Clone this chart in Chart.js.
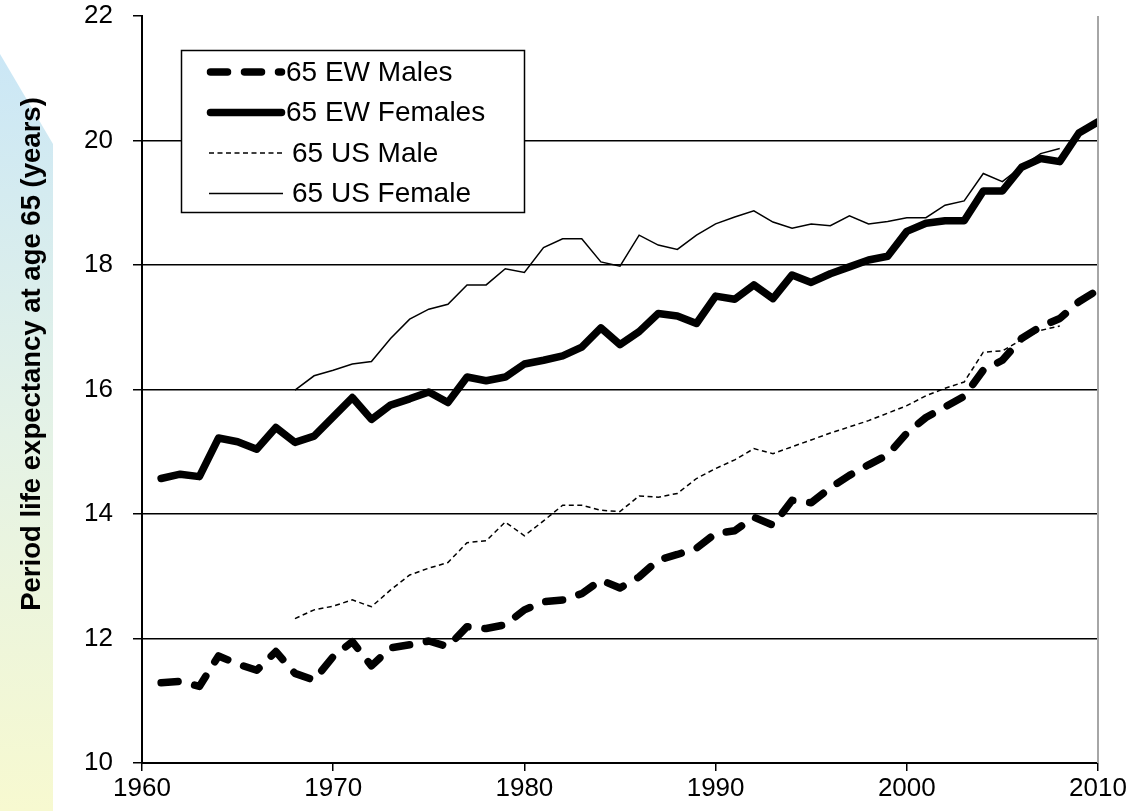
<!DOCTYPE html>
<html lang="en">
<head>
<meta charset="UTF-8">
<title>Period life expectancy at age 65</title>
<script src="https://cdn.jsdelivr.net/npm/chart.js"></script>
<style>
  body { margin: 0; background: #ffffff; }
  #wrap { width: 1130px; height: 811px; position: relative; }
</style>
</head>
<body>
<div id="wrap"><canvas id="lifeChart" width="1130" height="811"></canvas></div>
<script>
// years covered by each source
const ewYears = [];
for (let y = 1961; y <= 2010; y++) ewYears.push(y);
const usYears = [];
for (let y = 1968; y <= 2008; y++) usYears.push(y);

// values (years of life remaining at 65)
const ewMales = [11.29, 11.31, 11.23, 11.72, 11.59, 11.49, 11.79, 11.44, 11.33, 11.71,
                 11.95, 11.56, 11.85, 11.90, 11.96, 11.87, 12.19, 12.16, 12.22, 12.46,
                 12.59, 12.62, 12.72, 12.94, 12.81, 12.99, 13.26, 13.35, 13.45, 13.69,
                 13.73, 13.95, 13.82, 14.22, 14.18, 14.42, 14.62, 14.79, 14.95, 15.30,
                 15.55, 15.72, 15.89, 16.31, 16.47, 16.82, 17.01, 17.14, 17.41, 17.60];
const ewFemales = [14.57, 14.64, 14.60, 15.22, 15.16, 15.04, 15.39, 15.15, 15.25, 15.56,
                   15.87, 15.52, 15.75, 15.85, 15.96, 15.79, 16.20, 16.14, 16.20, 16.41,
                   16.47, 16.54, 16.68, 16.99, 16.72, 16.93, 17.22, 17.18, 17.06, 17.50,
                   17.45, 17.68, 17.46, 17.84, 17.72, 17.86, 17.97, 18.08, 18.14, 18.54,
                   18.67, 18.71, 18.71, 19.19, 19.19, 19.57, 19.71, 19.66, 20.12, 20.30];
const usMale = [12.32, 12.46, 12.52,
                12.62, 12.51, 12.78, 13.02, 13.13, 13.22, 13.54, 13.57, 13.87, 13.65,
                13.89, 14.14, 14.14, 14.06, 14.04, 14.29, 14.27, 14.33, 14.57, 14.73,
                14.87, 15.05, 14.97, 15.08, 15.19, 15.30, 15.40, 15.50, 15.62, 15.74,
                15.90, 16.02, 16.12, 16.60, 16.62, 16.80, 16.95, 17.02];
const usFemale = [15.99, 16.22, 16.31,
                  16.41, 16.45, 16.82, 17.13, 17.29, 17.37, 17.68, 17.68, 17.94, 17.88,
                  18.28, 18.42, 18.42, 18.05, 17.98, 18.48, 18.32, 18.25, 18.48, 18.66,
                  18.77, 18.87, 18.69, 18.59, 18.66, 18.63, 18.79, 18.66, 18.70, 18.76,
                  18.76, 18.96, 19.03, 19.47, 19.34, 19.58, 19.79, 19.87];

const seriesLabels = ['65 EW Males', '65 EW Females', '65 US Male', '65 US Female'];
const xTicks = [1960, 1970, 1980, 1990, 2000, 2010];
const yTicks = [10, 12, 14, 16, 18, 20, 22];
const yTitle = 'Period life expectancy at age 65 (years)';

function pts(xs, ys) {
    return xs.map((x, i) => ({ x: x, y: ys[i] }));
}

// slide decoration behind the axis title
const slideBack = {
    id: 'slideBack',
    beforeDraw(chart) {
        const c = chart.ctx;
        c.save();
        c.fillStyle = '#ffffff';
        c.fillRect(0, 0, chart.width, chart.height);
        const g = c.createLinearGradient(0, 55, 0, 811);
        g.addColorStop(0, '#cbe7f6');
        g.addColorStop(0.5, '#e4f2e6');
        g.addColorStop(1, '#f7f9d0');
        c.fillStyle = g;
        c.beginPath();
        c.moveTo(0, 54);
        c.lineTo(53, 144);
        c.lineTo(53, 811);
        c.lineTo(0, 811);
        c.closePath();
        c.fill();
        c.restore();
    }
};

// axis title, right border and the boxed legend
const decor = {
    id: 'decor',
    afterDraw(chart) {
        const c = chart.ctx;
        const a = chart.chartArea;
        c.save();

        c.strokeStyle = '#a6a6a6';
        c.lineWidth = 2;
        c.beginPath();
        c.moveTo(a.right, a.top);
        c.lineTo(a.right, a.bottom);
        c.stroke();

        c.translate(32, 354);
        c.rotate(-Math.PI / 2);
        c.fillStyle = '#000';
        c.font = 'bold 27.5px "Liberation Sans", Arial, sans-serif';
        c.textAlign = 'center';
        c.textBaseline = 'middle';
        c.fillText(yTitle, 0, 0);
        c.setTransform(1, 0, 0, 1, 0, 0);

        // legend box
        c.fillStyle = '#fff';
        c.fillRect(181, 50, 344, 163);
        c.strokeStyle = '#000';
        c.lineWidth = 1.5;
        c.strokeRect(181.5, 50.5, 343, 162);

        chart.data.datasets.forEach((ds, i) => {
            const y = 72 + i * 40.5;
            const thick = ds.borderWidth > 3;
            c.beginPath();
            c.lineWidth = ds.borderWidth;
            c.lineCap = ds.borderCapStyle || 'butt';
            c.setLineDash(ds.borderDash || []);
            c.strokeStyle = ds.borderColor;
            c.moveTo(thick ? 210.5 : 209, y);
            c.lineTo(thick ? 281.5 : 283, y);
            c.stroke();
            c.setLineDash([]);
            c.fillStyle = '#000';
            c.font = '28px "Liberation Sans", Arial, sans-serif';
            c.textAlign = 'left';
            c.textBaseline = 'middle';
            c.fillText(ds.label, thick ? 286 : 292, y + 1);
        });
        c.restore();
    }
};

new Chart(document.getElementById('lifeChart'), {
    type: 'line',
    data: {
        datasets: [
            {
                label: seriesLabels[0],
                data: pts(ewYears, ewMales),
                borderColor: '#000',
                borderWidth: 7.5,
                borderDash: [17, 17],
                borderCapStyle: 'round',
                borderJoinStyle: 'round'
            },
            {
                label: seriesLabels[1],
                data: pts(ewYears, ewFemales),
                borderColor: '#000',
                borderWidth: 7.5,
                borderCapStyle: 'round',
                borderJoinStyle: 'round'
            },
            {
                label: seriesLabels[2],
                data: pts(usYears, usMale),
                borderColor: '#000',
                borderWidth: 1.5,
                borderDash: [5, 3.5]
            },
            {
                label: seriesLabels[3],
                data: pts(usYears, usFemale),
                borderColor: '#000',
                borderWidth: 1.5
            }
        ]
    },
    options: {
        responsive: false,
        animation: false,
        devicePixelRatio: 1,
        layout: { padding: { left: 0, top: 16, right: 32, bottom: 0 } },
        elements: {
            point: { radius: 0 },
            line: { tension: 0, fill: false }
        },
        scales: {
            x: {
                type: 'linear',
                min: 1960,
                max: 2010,
                afterBuildTicks(scale) {
                    scale.ticks = xTicks.map(v => ({ value: v }));
                },
                afterFit(scale) {
                    scale.height = 48;
                    scale.paddingLeft = 0;
                    scale.paddingRight = 0;
                },
                ticks: {
                    color: '#000',
                    font: { family: '"Liberation Sans", Arial, sans-serif', size: 26 },
                    padding: 2,
                    maxRotation: 0,
                    callback: v => String(v)
                },
                grid: {
                    drawOnChartArea: false,
                    color: '#000',
                    lineWidth: 1.5,
                    tickLength: 8
                },
                border: { color: '#000', width: 2 }
            },
            y: {
                min: 10,
                max: 22,
                afterBuildTicks(scale) {
                    scale.ticks = yTicks.map(v => ({ value: v }));
                },
                afterFit(scale) {
                    scale.width = 142;
                    scale.paddingTop = 0;
                    scale.paddingBottom = 0;
                },
                ticks: {
                    color: '#000',
                    font: { family: '"Liberation Sans", Arial, sans-serif', size: 26 },
                    padding: 20
                },
                grid: {
                    color: ctx => (ctx.tick && ctx.tick.value === 22) ? 'rgba(0,0,0,0)' : '#000',
                    tickColor: '#000',
                    lineWidth: 1.5,
                    tickLength: 9
                },
                border: { color: '#000', width: 2 }
            }
        },
        plugins: {
            legend: { display: false },
            tooltip: { enabled: false }
        }
    },
    plugins: [slideBack, decor]
});
</script>
</body>
</html>
